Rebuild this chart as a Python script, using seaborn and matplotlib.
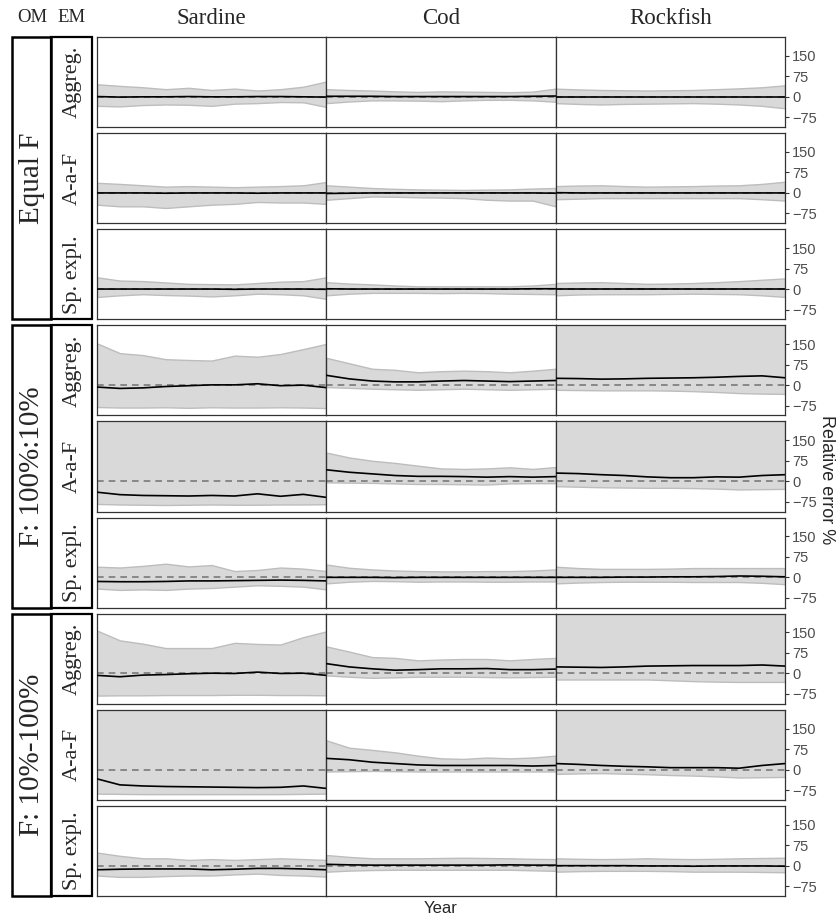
import matplotlib
matplotlib.use("Agg")
import matplotlib.pyplot as plt
from matplotlib.patches import Rectangle
import seaborn as sns
import pandas as pd

# ---------- data (relative error %) ----------
YEARS = [1, 6, 11, 16, 21, 26, 31, 36, 41, 46, 51]

SPECIES = ["Sardine", "Cod", "Rockfish"]
OMS = ["Equal F", "F: 100%:10%", "F: 10%-100%"]
EMS = ["Aggreg.", "A-a-F", "Sp. expl."]

# Equal F
SAR_EQ_AGG_HI = [46, 40, 35, 28, 33, 25, 30, 23, 28, 37, 56]
SAR_EQ_AGG_MD = [1, -1, 0, 0, 1, 0, 0, 1, 1, 0, -1]
SAR_EQ_AGG_LO = [-33, -35, -30, -28, -29, -33, -25, -23, -19, -20, -37]
COD_EQ_AGG_HI = [28, 25, 23, 20, 18, 20, 19, 18, 17, 19, 30]
COD_EQ_AGG_MD = [2, 2, 2, 1, 1, 1, 1, 1, 1, 2, 3]
COD_EQ_AGG_LO = [-23, -17, -13, -13, -14, -16, -13, -11, -11, -13, -18]
ROC_EQ_AGG_HI = [30, 27, 25, 24, 23, 24, 25, 28, 31, 35, 42]
ROC_EQ_AGG_MD = [0, 0, 0, 0, 0, 0, 0, 0, 0, 0, 0]
ROC_EQ_AGG_LO = [-23, -26, -28, -26, -25, -24, -23, -25, -28, -33, -42]

SAR_EQ_AAF_HI = [37, 33, 28, 23, 25, 23, 21, 23, 25, 28, 40]
SAR_EQ_AAF_MD = [0, 0, 0, -1, 0, 0, 0, -1, 0, 0, 0]
SAR_EQ_AAF_LO = [-43, -49, -49, -55, -49, -43, -40, -33, -35, -35, -40]
COD_EQ_AAF_HI = [28, 23, 18, 15, 13, 12, 11, 12, 13, 16, 18]
COD_EQ_AAF_MD = [-2, -1, 0, 0, 0, 0, 0, 0, 0, 0, -1]
COD_EQ_AAF_LO = [-25, -19, -13, -14, -16, -17, -19, -25, -28, -28, -49]
ROC_EQ_AAF_HI = [25, 27, 28, 25, 23, 24, 25, 27, 28, 33, 41]
ROC_EQ_AAF_MD = [1, 0, 0, 0, 0, 0, 0, 0, 0, 0, 0]
ROC_EQ_AAF_LO = [-23, -21, -19, -19, -19, -19, -19, -19, -19, -23, -28]

SAR_EQ_SPX_HI = [43, 31, 29, 24, 19, 18, 17, 22, 27, 29, 43]
SAR_EQ_SPX_MD = [0, 0, 0, 0, 0, 0, -1, 0, 0, 0, -1]
SAR_EQ_SPX_LO = [-29, -23, -19, -22, -24, -27, -23, -17, -19, -23, -36]
COD_EQ_SPX_HI = [25, 20, 17, 13, 10, 10, 10, 10, 10, 13, 19]
COD_EQ_SPX_MD = [1, 0, 0, 0, 0, 0, 0, 0, 0, 1, 1]
COD_EQ_SPX_LO = [-23, -17, -14, -14, -14, -15, -14, -15, -17, -18, -19]
ROC_EQ_SPX_HI = [22, 24, 25, 22, 19, 20, 22, 25, 29, 34, 39]
ROC_EQ_SPX_MD = [0, 0, 0, 0, 0, 0, 0, 0, 0, 0, 0]
ROC_EQ_SPX_LO = [-23, -20, -19, -19, -19, -18, -17, -18, -19, -23, -29]

# F: 100%:10%
SAR_F1_AGG_HI = [153, 117, 110, 95, 92, 90, 108, 104, 114, 132, 151]
SAR_F1_AGG_MD = [-7, -12, -10, -5, -2, 1, 1, 5, -2, 0, -9]
SAR_F1_AGG_LO = [-80, -82, -82, -81, -83, -81, -82, -82, -81, -82, -84]
COD_F1_AGG_HI = [100, 80, 60, 56, 47, 51, 53, 51, 47, 53, 60]
COD_F1_AGG_MD = [36, 23, 15, 12, 12, 15, 17, 15, 13, 15, 17]
COD_F1_AGG_LO = [-7, -10, -13, -15, -17, -15, -13, -15, -17, -15, -13]
ROC_F1_AGG_HI = [250, 250, 250, 250, 250, 250, 250, 250, 250, 250, 250]
ROC_F1_AGG_MD = [25, 24, 22, 23, 25, 26, 27, 29, 32, 34, 27]
ROC_F1_AGG_LO = [-17, -18, -19, -19, -19, -20, -22, -25, -29, -31, -32]

SAR_F1_AAF_HI = [250, 250, 250, 250, 250, 250, 250, 250, 250, 250, 250]
SAR_F1_AAF_MD = [-40, -49, -52, -53, -54, -52, -54, -46, -55, -48, -59]
SAR_F1_AAF_LO = [-83, -85, -86, -87, -86, -85, -86, -86, -85, -85, -84]
COD_F1_AAF_HI = [105, 87, 75, 67, 57, 47, 45, 47, 51, 45, 52]
COD_F1_AAF_MD = [42, 33, 27, 21, 18, 18, 17, 15, 17, 15, 17]
COD_F1_AAF_LO = [-4, -5, -6, -8, -10, -10, -11, -12, -8, -7, -7]
ROC_F1_AAF_HI = [250, 250, 250, 250, 250, 250, 250, 250, 250, 250, 250]
ROC_F1_AAF_MD = [30, 28, 24, 21, 16, 13, 13, 16, 15, 21, 24]
ROC_F1_AAF_LO = [-18, -20, -22, -23, -24, -24, -25, -27, -30, -29, -28]

SAR_F1_SPX_HI = [39, 36, 42, 50, 40, 45, 23, 27, 36, 32, 23]
SAR_F1_SPX_MD = [-15, -16, -16, -15, -13, -13, -12, -11, -10, -11, -13]
SAR_F1_SPX_LO = [-41, -46, -44, -46, -41, -39, -34, -29, -31, -34, -44]
COD_F1_SPX_HI = [47, 35, 29, 25, 23, 22, 22, 23, 23, 25, 29]
COD_F1_SPX_MD = [0, 0, 0, -1, 0, 0, 0, 0, 0, 0, 0]
COD_F1_SPX_LO = [-22, -16, -13, -14, -16, -15, -15, -16, -16, -15, -15]
ROC_F1_SPX_HI = [39, 34, 31, 31, 31, 32, 34, 34, 34, 34, 34]
ROC_F1_SPX_MD = [0, 0, 0, 1, 1, 2, 2, 3, 5, 4, 2]
ROC_F1_SPX_LO = [-22, -19, -17, -16, -16, -16, -17, -17, -17, -20, -25]

# F: 10%-100%
SAR_F2_AGG_HI = [157, 121, 109, 93, 93, 93, 112, 108, 106, 133, 154]
SAR_F2_AGG_MD = [-7, -12, -6, -4, -1, 1, 0, 5, 0, 1, -7]
SAR_F2_AGG_LO = [-81, -80, -80, -79, -79, -79, -78, -78, -79, -79, -80]
COD_F2_AGG_HI = [99, 80, 60, 57, 48, 51, 53, 53, 48, 53, 57]
COD_F2_AGG_MD = [36, 24, 17, 12, 14, 17, 17, 18, 14, 14, 16]
COD_F2_AGG_LO = [-7, -12, -16, -14, -12, -12, -12, -13, -14, -13, -12]
ROC_F2_AGG_HI = [250, 250, 250, 250, 250, 250, 250, 250, 250, 250, 250]
ROC_F2_AGG_MD = [24, 23, 22, 24, 27, 28, 29, 29, 29, 31, 27]
ROC_F2_AGG_LO = [-22, -22, -22, -22, -22, -25, -28, -30, -31, -31, -31]

SAR_F2_AAF_HI = [250, 250, 250, 250, 250, 250, 250, 250, 250, 250, 250]
SAR_F2_AAF_MD = [-34, -56, -60, -62, -63, -64, -65, -66, -65, -60, -69]
SAR_F2_AAF_LO = [-88, -89, -90, -90, -90, -90, -90, -90, -90, -89, -88]
COD_F2_AAF_HI = [107, 80, 72, 63, 51, 41, 39, 44, 41, 44, 51]
COD_F2_AAF_MD = [41, 36, 27, 22, 17, 15, 15, 15, 15, 13, 15]
COD_F2_AAF_LO = [-7, -6, -5, -6, -7, -7, -7, -7, -7, -7, -7]
ROC_F2_AAF_HI = [250, 250, 250, 250, 250, 250, 250, 250, 250, 250, 250]
ROC_F2_AAF_MD = [22, 19, 15, 12, 10, 7, 7, 7, 5, 15, 22]
ROC_F2_AAF_LO = [-16, -14, -13, -15, -17, -20, -22, -25, -29, -28, -27]

SAR_F2_SPX_HI = [48, 36, 27, 27, 21, 24, 21, 24, 27, 24, 21]
SAR_F2_SPX_MD = [-15, -13, -12, -12, -12, -15, -13, -10, -10, -12, -15]
SAR_F2_SPX_LO = [-36, -41, -41, -38, -36, -36, -32, -29, -34, -36, -40]
COD_F2_SPX_HI = [39, 32, 27, 27, 27, 28, 29, 28, 27, 25, 24]
COD_F2_SPX_MD = [5, 3, 2, 2, 2, 2, 2, 2, 3, 2, 2]
COD_F2_SPX_LO = [-22, -18, -16, -15, -15, -15, -15, -15, -15, -17, -19]
ROC_F2_SPX_HI = [27, 25, 24, 25, 27, 25, 24, 25, 27, 28, 29]
ROC_F2_SPX_MD = [0, 0, 0, 0, -1, -1, -2, -1, -1, -1, -2]
ROC_F2_SPX_LO = [-22, -20, -19, -19, -19, -20, -22, -22, -22, -23, -24]

YTICKS = [-75, 0, 75, 150]

# ---------- build long table ----------
sp_codes = {"Sardine": "SAR", "Cod": "COD", "Rockfish": "ROC"}
om_codes = {"Equal F": "EQ", "F: 100%:10%": "F1", "F: 10%-100%": "F2"}
em_codes = {"Aggreg.": "AGG", "A-a-F": "AAF", "Sp. expl.": "SPX"}

rows = []
g = globals()
for om in OMS:
    for em in EMS:
        for sp in SPECIES:
            key = f"{sp_codes[sp]}_{om_codes[om]}_{em_codes[em]}"
            for i, yr in enumerate(YEARS):
                rows.append({"om": om, "em": em, "species": sp, "year": yr,
                             "lo": g[key + "_LO"][i], "med": g[key + "_MD"][i],
                             "hi": g[key + "_HI"][i]})
df = pd.DataFrame(rows)

# ---------- plot ----------
sns.set_style("white")
plt.rcParams["font.family"] = ["Liberation Sans", "DejaVu Sans"]
SERIF = ["Liberation Serif", "DejaVu Serif"]

W, H = 836, 921
fig = plt.figure(figsize=(W / 100, H / 100), dpi=100)
gs = fig.add_gridspec(9, 3, left=97 / W, right=785 / W, top=1 - 37 / H,
                      bottom=1 - 896 / H, hspace=0.066, wspace=0)

axes = {}
for r in range(9):
    om = OMS[r // 3]
    em = EMS[r % 3]
    for c, sp in enumerate(SPECIES):
        ax = fig.add_subplot(gs[r, c])
        axes[(r, c)] = ax
        sub = df[(df.om == om) & (df.em == em) & (df.species == sp)]
        ax.fill_between(sub["year"], sub["lo"], sub["hi"], facecolor="#d9d9d9",
                        edgecolor="#bdbdbd", linewidth=1.0, zorder=1)
        ax.axhline(0, color="#7a7a7a", lw=1.2, ls=(0, (4, 3)), zorder=2)
        sns.lineplot(data=sub, x="year", y="med", ax=ax, color="black",
                     lw=1.2, legend=False, zorder=3)
        ax.set_xlim(YEARS[0], YEARS[-1])
        ax.set_ylim(-111, 219)
        ax.set_xlabel("")
        ax.set_ylabel("")
        ax.set_xticks([])
        for s in ax.spines.values():
            s.set_color("#333333")
            s.set_linewidth(0.9)
        if c == 2:
            ax.yaxis.tick_right()
            ax.set_yticks(YTICKS)
            ax.tick_params(axis="y", right=True, length=3, width=0.8,
                           color="#333333", labelcolor="#4d4d4d",
                           labelsize=10.5, pad=2)
        else:
            ax.set_yticks([])


def fx(px):
    return px / W


def fy(py):
    return 1 - py / H


# strips on the left
for gi, om in enumerate(OMS):
    top = axes[(gi * 3, 0)].get_position().y1
    bot = axes[(gi * 3 + 2, 0)].get_position().y0
    fig.add_artist(Rectangle((fx(12), bot), fx(39), top - bot, transform=fig.transFigure,
                             fill=False, edgecolor="black", lw=1.8))
    fig.add_artist(Rectangle((fx(51), bot), fx(41), top - bot, transform=fig.transFigure,
                             fill=False, edgecolor="black", lw=1.6))
    fig.text(fx(32), (top + bot) / 2, om, rotation=90, ha="center", va="center",
             fontsize=21, family=SERIF)
    for k in range(3):
        p = axes[(gi * 3 + k, 0)].get_position()
        fig.text(fx(72), (p.y0 + p.y1) / 2, EMS[k], rotation=90, ha="center",
                 va="center", fontsize=16, family=SERIF)

# headers
fig.text(fx(32), fy(18), "OM", ha="center", va="center", fontsize=13.5, family=SERIF)
fig.text(fx(72), fy(18), "EM", ha="center", va="center", fontsize=13.5, family=SERIF)
for c, sp in enumerate(SPECIES):
    p = axes[(0, c)].get_position()
    fig.text((p.x0 + p.x1) / 2, fy(18), sp, ha="center", va="center",
             fontsize=16.5, family=SERIF)

fig.text(fx(441), fy(908), "Year", ha="center", va="center", fontsize=12)
fig.text(fx(826), fy(480), "Relative error %", ha="center", va="center",
         rotation=-90, fontsize=13)

fig.savefig("out.png", dpi=100)
